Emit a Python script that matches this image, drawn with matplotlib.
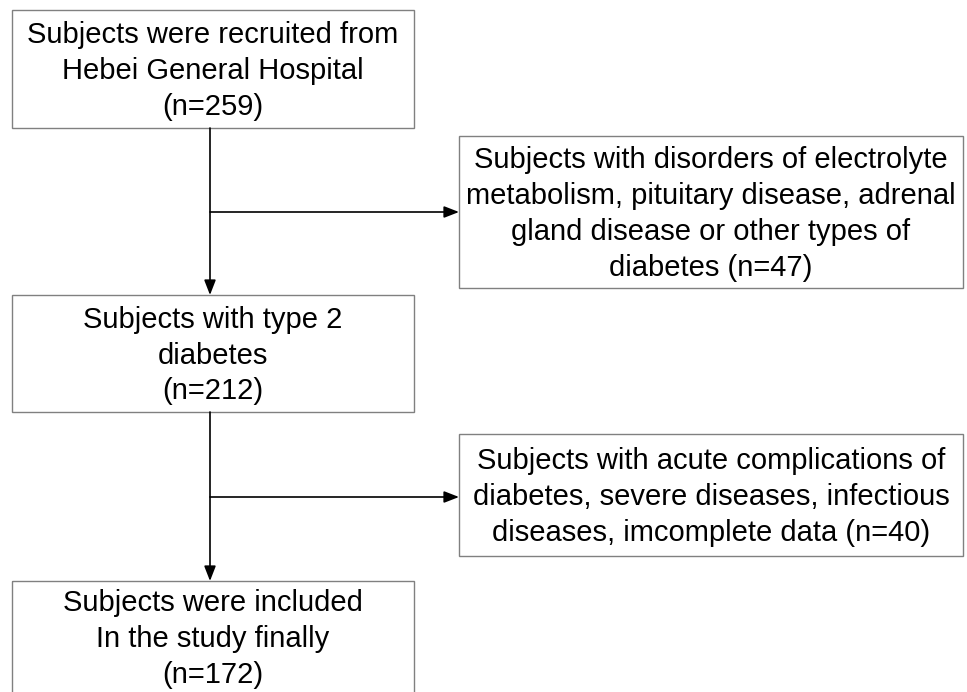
"""
Flow chart of subject selection.
"""

import matplotlib.pyplot as plt
from matplotlib.patches import Rectangle


W, H = 967, 692

main_labels = [
    "Subjects were recruited from\nHebei General Hospital\n(n=259)",
    "Subjects with type 2\ndiabetes\n(n=212)",
    "Subjects were included\nIn the study finally\n(n=172)",
]
excluded_labels = [
    "Subjects with disorders of electrolyte\nmetabolism, pituitary disease, adrenal\n"
    "gland disease or other types of\ndiabetes (n=47)",
    "Subjects with acute complications of\ndiabetes, severe diseases, infectious\n"
    "diseases, imcomplete data (n=40)",
]

# box geometry in pixels: (left, top, right, bottom)
main_boxes = [(12, 10, 414, 128), (12, 295, 414, 412), (12, 581, 414, 720)]
side_boxes = [(459, 136, 963, 288), (459, 434, 963, 556)]
side_arrow_y = [212, 497]
stem_x = 210

FONT = "Liberation Sans"
FONTSIZE = 21
EDGE = "#808080"

fig = plt.figure(figsize=(W / 100, H / 100), dpi=100)
ax = fig.add_axes([0, 0, 1, 1])
ax.set_xlim(0, W)
ax.set_ylim(H, 0)
ax.axis("off")


def draw_box(box, label, text_y=None):
    x0, y0, x1, y1 = box
    ax.add_patch(Rectangle((x0, y0), x1 - x0, y1 - y0, fill=False,
                           edgecolor=EDGE, linewidth=1.0, clip_on=True))
    cy = (y0 + y1) / 2 + 2 if text_y is None else text_y
    ax.text((x0 + x1) / 2, cy, label, ha="center", va="center",
            fontsize=FONTSIZE, family=FONT, linespacing=1.35, color="black")


def arrow(x0, y0, x1, y1):
    ax.annotate("", xy=(x1, y1), xytext=(x0, y0),
                arrowprops=dict(arrowstyle="-|>,head_length=0.9,head_width=0.35",
                                color="black", lw=1.2, shrinkA=0, shrinkB=0))


for i, (box, label) in enumerate(zip(main_boxes, main_labels)):
    draw_box(box, label, text_y=639 if i == 2 else None)

for box, label in zip(side_boxes, excluded_labels):
    draw_box(box, label)

# vertical arrows between main boxes, side arrows to excluded boxes
for upper, lower, ay, side in zip(main_boxes[:-1], main_boxes[1:], side_arrow_y, side_boxes):
    arrow(stem_x, upper[3], stem_x, lower[1])
    arrow(stem_x, ay, side[0], ay)

fig.savefig("out.png", dpi=100)
